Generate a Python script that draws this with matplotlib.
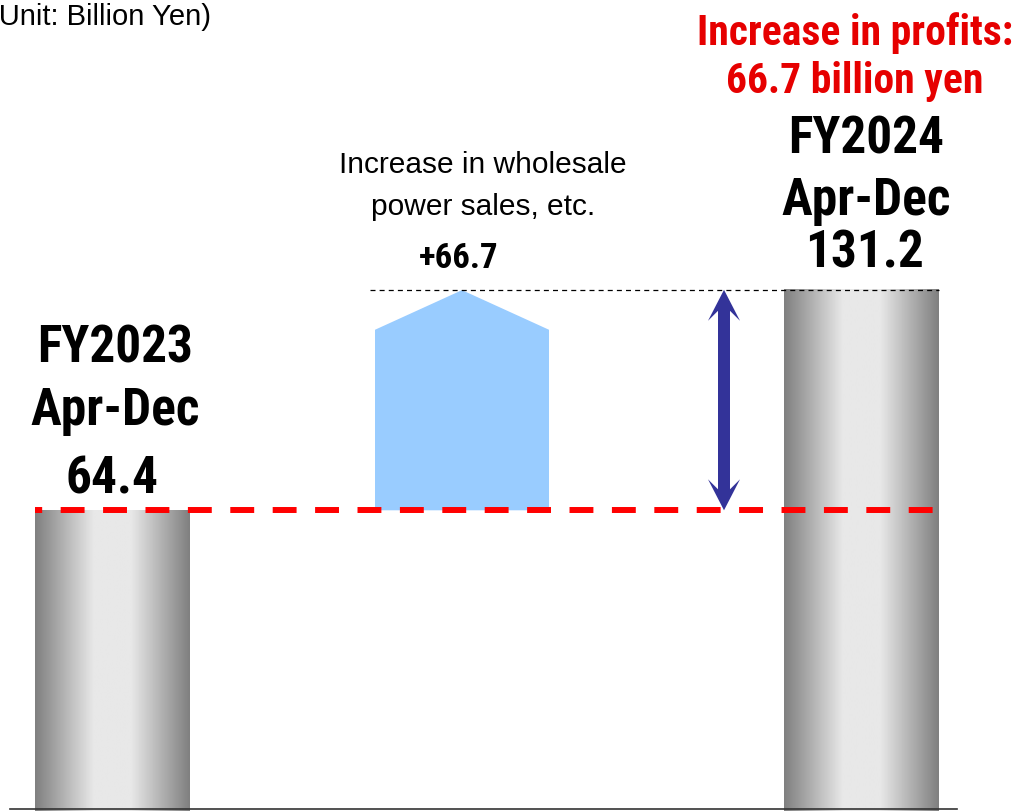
import numpy as np
import matplotlib.pyplot as plt
from matplotlib.patches import Polygon

# --------- data (billion yen) --------

periods = ['FY2023\nApr-Dec', 'FY2024\nApr-Dec']
profits = [64.4, 131.2]
step_label = 'Increase in wholesale\npower sales, etc.'
step_value = 66.7

# --------- plot-params -----------

W, H = 1014, 811
base = -26.7            # visual floor of the truncated bars
ytop = 219.0
bar_x = [(35, 190), (784, 939)]
step_x = (375, 549)
arrow_x = 724

narrow = ['Roboto Condensed', 'Liberation Sans', 'DejaVu Sans']
regular = ['Liberation Sans', 'DejaVu Sans']

fig = plt.figure(figsize=(W / 100, H / 100), dpi=100)
ax = fig.add_axes([0, 0, 1, 1])
ax.set_xlim(0, W)
ax.set_ylim(base, ytop)
ax.axis('off')

scale = H / (ytop - base)   # pixels per billion yen

# gradient "cylinder" fill for the period bars
grad_pos = [0.0, 0.38, 0.62, 1.0]
grad_val = [0.50, 0.91, 0.91, 0.50]
g = np.interp(np.linspace(0, 1, 256), grad_pos, grad_val)[None, :]

for (x0, x1), v in zip(bar_x, profits):
    ax.imshow(g, cmap='gray', vmin=0, vmax=1, aspect='auto',
              extent=(x0, x1, base, v), interpolation='bilinear', zorder=1)

ax.set_xlim(0, W)
ax.set_ylim(base, ytop)

# waterfall step, drawn as an up-arrow shape
lo, hi = profits[0], profits[0] + step_value
sh = lo + 0.82 * step_value
x0, x1 = step_x
step = Polygon([(x0, lo), (x0, sh), ((x0 + x1) / 2, hi), (x1, sh), (x1, lo)],
               closed=True, facecolor='#99CCFF', edgecolor='none', zorder=1)
ax.add_patch(step)

# reference lines
ax.plot([35, 935], [profits[0], profits[0]], color='#FF0000', lw=4.3,
        linestyle=(2.8, (4, 3.1)), zorder=3)
ax.plot([370, 939], [profits[1], profits[1]], color='black', lw=0.9,
        linestyle=(0, (4, 3.3)), zorder=3)
ax.plot([10, 957], [base + 0.6, base + 0.6], color='#333333', lw=1.2, zorder=3)

# double-headed difference arrow
hw, bw = 6, 16
hl, nl = 31 / scale, 21 / scale
a, b = profits[1], profits[0]
c = arrow_x
pts = [(c, a), (c + bw, a - hl), (c + hw, a - nl), (c + hw, b + nl),
       (c + bw, b + hl), (c, b), (c - bw, b + hl), (c - hw, b + nl),
       (c - hw, a - nl), (c - bw, a - hl)]
ax.add_patch(Polygon(pts, closed=True, facecolor='#333399', edgecolor='none', zorder=4))


def put(x, y, s, size, family, weight='normal', color='black', ha='center'):
    fig.text(x / W, 1 - y / H, s, fontsize=size, family=family, weight=weight,
             color=color, ha=ha, va='baseline')


# texts
put(-11, 25, '(Unit: Billion Yen)', 21, regular, ha='left')

put(855, 45, 'Increase in profits:', 30, narrow, 'bold', '#E60000')
put(855, 93, f'{step_value} billion yen', 30, narrow, 'bold', '#E60000')

put(866, 153, periods[1].split('\n')[0], 37, narrow, 'bold')
put(866, 215, periods[1].split('\n')[1], 37, narrow, 'bold')
put(864, 268, f'{profits[1]}', 37, narrow, 'bold')

put(115, 363, periods[0].split('\n')[0], 37, narrow, 'bold')
put(115, 425, periods[0].split('\n')[1], 37, narrow, 'bold')
put(112, 493, f'{profits[0]}', 37, narrow, 'bold')

put(483, 173, step_label.split('\n')[0], 21.5, regular)
put(483, 215, step_label.split('\n')[1], 21.5, regular)
put(459, 268, f'+{step_value}', 25, narrow, 'bold')

fig.savefig('out.png', dpi=100)
